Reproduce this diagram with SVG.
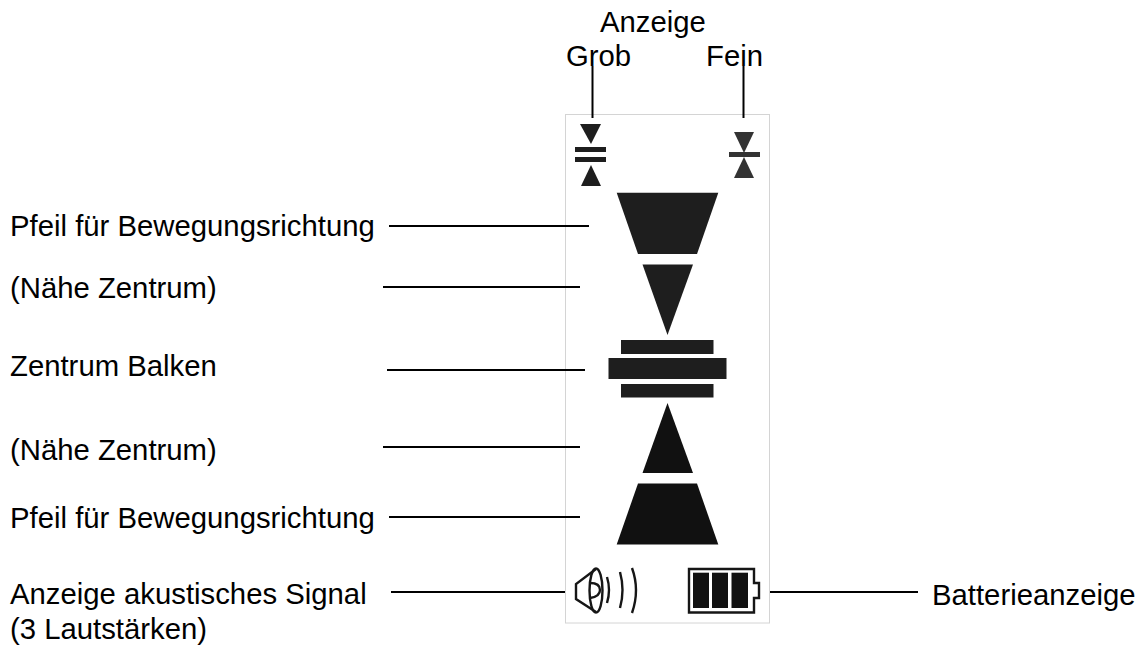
<svg xmlns="http://www.w3.org/2000/svg" width="1144" height="648" viewBox="0 0 1144 648">
<style>
text{font-family:"Liberation Sans",Arial,sans-serif;font-size:29.3px;fill:#000}
.c line{stroke:#000;stroke-width:2}
.d{fill:#1e1e1e}.e{fill:#111}
.o{fill:none;stroke:#161616;stroke-width:2.4}
</style>
<rect width="1144" height="648" fill="#fff"/>
<g id="panel"><rect x="565.5" y="114.5" width="204" height="508.5" fill="#fff" stroke="#d4d4d4" stroke-width="1"/></g>
<g id="label-anzeige"><text x="600" y="32">Anzeige</text></g>
<g id="label-grob"><text x="566" y="66">Grob</text></g>
<g id="label-fein"><text x="706" y="66">Fein</text></g>
<g id="label-pfeil-oben"><text x="10" y="236">Pfeil für Bewegungsrichtung</text></g>
<g id="label-naehe-oben"><text x="10" y="298">(Nähe Zentrum)</text></g>
<g id="label-zentrum"><text x="10" y="376">Zentrum Balken</text></g>
<g id="label-naehe-unten"><text x="10" y="460">(Nähe Zentrum)</text></g>
<g id="label-pfeil-unten"><text x="10" y="528">Pfeil für Bewegungsrichtung</text></g>
<g id="label-akustik"><text x="10" y="604">Anzeige akustisches Signal</text><text x="10" y="639">(3 Lautstärken)</text></g>
<g id="label-batterie"><text x="932" y="605">Batterieanzeige</text></g>
<g id="connectors" class="c">
<line x1="592.5" y1="66" x2="592.5" y2="118"/>
<line x1="743.5" y1="66" x2="743.5" y2="118"/>
<line x1="389" y1="226" x2="589" y2="226"/>
<line x1="383" y1="287" x2="580" y2="287"/>
<line x1="387" y1="370" x2="585" y2="370"/>
<line x1="383" y1="447" x2="580" y2="447"/>
<line x1="389" y1="517" x2="580" y2="517"/>
<line x1="391" y1="592" x2="565" y2="592"/>
<line x1="770" y1="592" x2="918" y2="592"/>
</g>
<g id="icon-grob">
<polygon class="d" points="580,124 601,124 591,144"/>
<rect class="d" x="575" y="147" width="31" height="5"/>
<rect class="d" x="575" y="157" width="31" height="5"/>
<polygon class="d" points="591,165 601,186 581,186"/>
</g>
<g id="icon-fein">
<polygon fill="#333" points="734,132 754,132 744,153"/>
<rect fill="#333" x="729" y="152" width="31" height="5"/>
<polygon fill="#333" points="744,157 754,178 734,178"/>
</g>
<g id="arrow-oben-gross"><polygon class="d" points="616.7,192.7 718.3,192.7 697,254 638,254"/></g>
<g id="arrow-oben-klein"><polygon class="d" points="642.5,264.5 693,264.5 667.5,335"/></g>
<g id="balken">
<rect class="d" x="621" y="340" width="92.5" height="14"/>
<rect class="d" x="608.5" y="358" width="118" height="21"/>
<rect class="d" x="621" y="384" width="92.5" height="13.5"/>
</g>
<g id="arrow-unten-klein"><polygon class="e" points="667.5,403 693,473 642.5,473"/></g>
<g id="arrow-unten-gross"><polygon class="e" points="638,483.5 697,483.5 718.3,544.5 616.7,544.5"/></g>
<g id="icon-lautsprecher">
<path class="o" d="M596,569 L576,584 V599 L596,612"/>
<ellipse class="o" cx="596" cy="590.5" rx="6.5" ry="22"/>
<path class="o" d="M590,583 C597,583 600,586 600,590 C600,594 597,597 590,598"/>
<path class="o" d="M607,577 Q611,590 607,603"/>
<path class="o" d="M620,572 Q625,590 620,608"/>
<path class="o" d="M632,568 Q640,590 632,613"/>
</g>
<g id="icon-batterie">
<path class="o" d="M754,569 H689 V612.5 H754 V598 H759 V583 H754 Z"/>
<rect class="e" x="693" y="572.7" width="16" height="35.3"/>
<rect class="e" x="712" y="572.7" width="16" height="35.3"/>
<rect class="e" x="731.5" y="572.7" width="16.5" height="35.3"/>
</g>
</svg>
